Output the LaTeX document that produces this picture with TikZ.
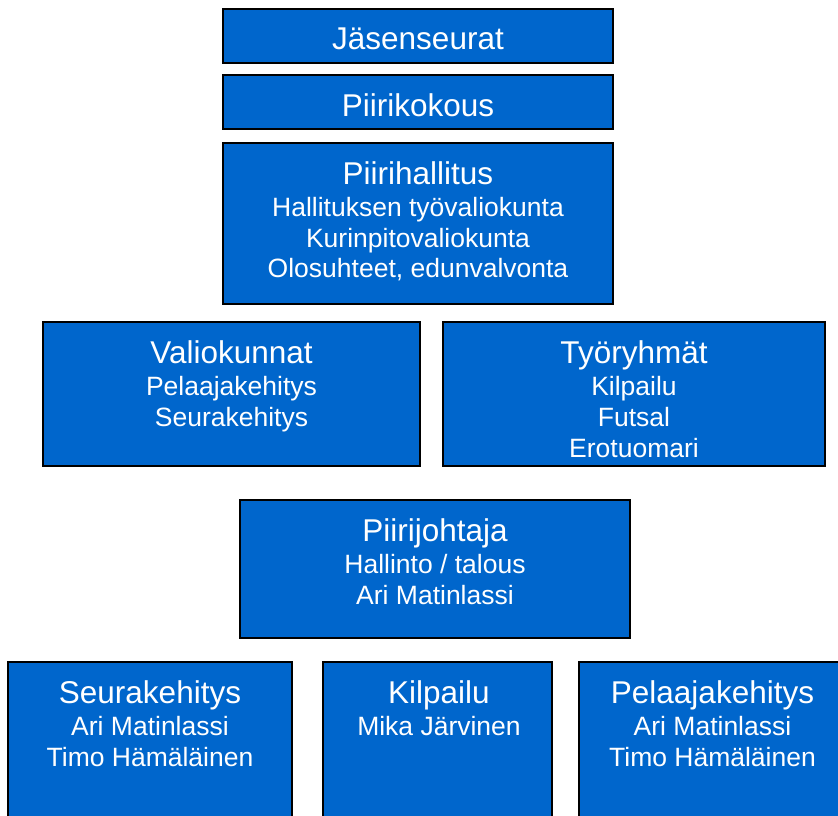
\documentclass[tikz,border=0pt]{standalone}
\usepackage{fontspec}
\setmainfont{Liberation Sans}
\definecolor{boxblue}{HTML}{0066CC}
\begin{document}
\begin{tikzpicture}[x=1pt,y=-1pt,
  box/.style={draw=black,line width=2pt,fill=boxblue,rectangle,inner sep=0pt,outer sep=0pt},
  ttl/.style={anchor=base,inner sep=0pt,text=white,font=\fontsize{31.5}{36}\selectfont},
  sub/.style={anchor=base,inner sep=0pt,text=white,font=\fontsize{26.5}{30}\selectfont}]
\clip (0,0) rectangle (838,815);
\fill[white] (0,0) rectangle (838,815);
% boxes
\node[box,minimum width=390pt,minimum height=54pt] (j) at (418,36) {};
\node[box,minimum width=390pt,minimum height=54pt] (k) at (418,102) {};
\node[box,minimum width=390pt,minimum height=161pt] (h) at (418,223.5) {};
\node[box,minimum width=377pt,minimum height=144pt] (v) at (231.5,394) {};
\node[box,minimum width=382pt,minimum height=144pt] (t) at (634,394) {};
\node[box,minimum width=390pt,minimum height=138pt] (p) at (435,569) {};
\node[box,minimum width=284pt,minimum height=168pt] (s) at (150,746) {};
\node[box,minimum width=229pt,minimum height=168pt] (ki) at (437.5,746) {};
\node[box,minimum width=267pt,minimum height=168pt] (pe) at (712.5,746) {};
% texts
\node[ttl] (j1) at (418,49) {Jäsenseurat};
\node[ttl] (k1) at (418,116) {Piirikokous};
\node[ttl] (h1) at (418,184) {Piirihallitus};
\node[sub] (h2) at (418,216) {Hallituksen työvaliokunta};
\node[sub] (h3) at (418,247) {Kurinpitovaliokunta};
\node[sub] (h4) at (418,277) {Olosuhteet, edunvalvonta};
\node[ttl] (v1) at (231.5,363) {Valiokunnat};
\node[sub] (v2) at (231.5,395) {Pelaajakehitys};
\node[sub] (v3) at (231.5,426) {Seurakehitys};
\node[ttl] (t1) at (634,363) {Työryhmät};
\node[sub] (t2) at (634,395) {Kilpailu};
\node[sub] (t3) at (634,426) {Futsal};
\node[sub] (t4) at (634,457) {Erotuomari};
\node[ttl] (p1) at (435,541) {Piirijohtaja};
\node[sub] (p2) at (435,573) {Hallinto / talous};
\node[sub] (p3) at (435,604) {Ari Matinlassi};
\node[ttl] (s1) at (150,703) {Seurakehitys};
\node[sub] (s2) at (150,735) {Ari Matinlassi};
\node[sub] (s3) at (150,766) {Timo Hämäläinen};
\node[ttl] (ki1) at (439,703) {Kilpailu};
\node[sub] (ki2) at (439,735) {Mika Järvinen};
\node[ttl] (pe1) at (712.5,703) {Pelaajakehitys};
\node[sub] (pe2) at (712.5,735) {Ari Matinlassi};
\node[sub] (pe3) at (712.5,766) {Timo Hämäläinen};
\end{tikzpicture}
\end{document}
